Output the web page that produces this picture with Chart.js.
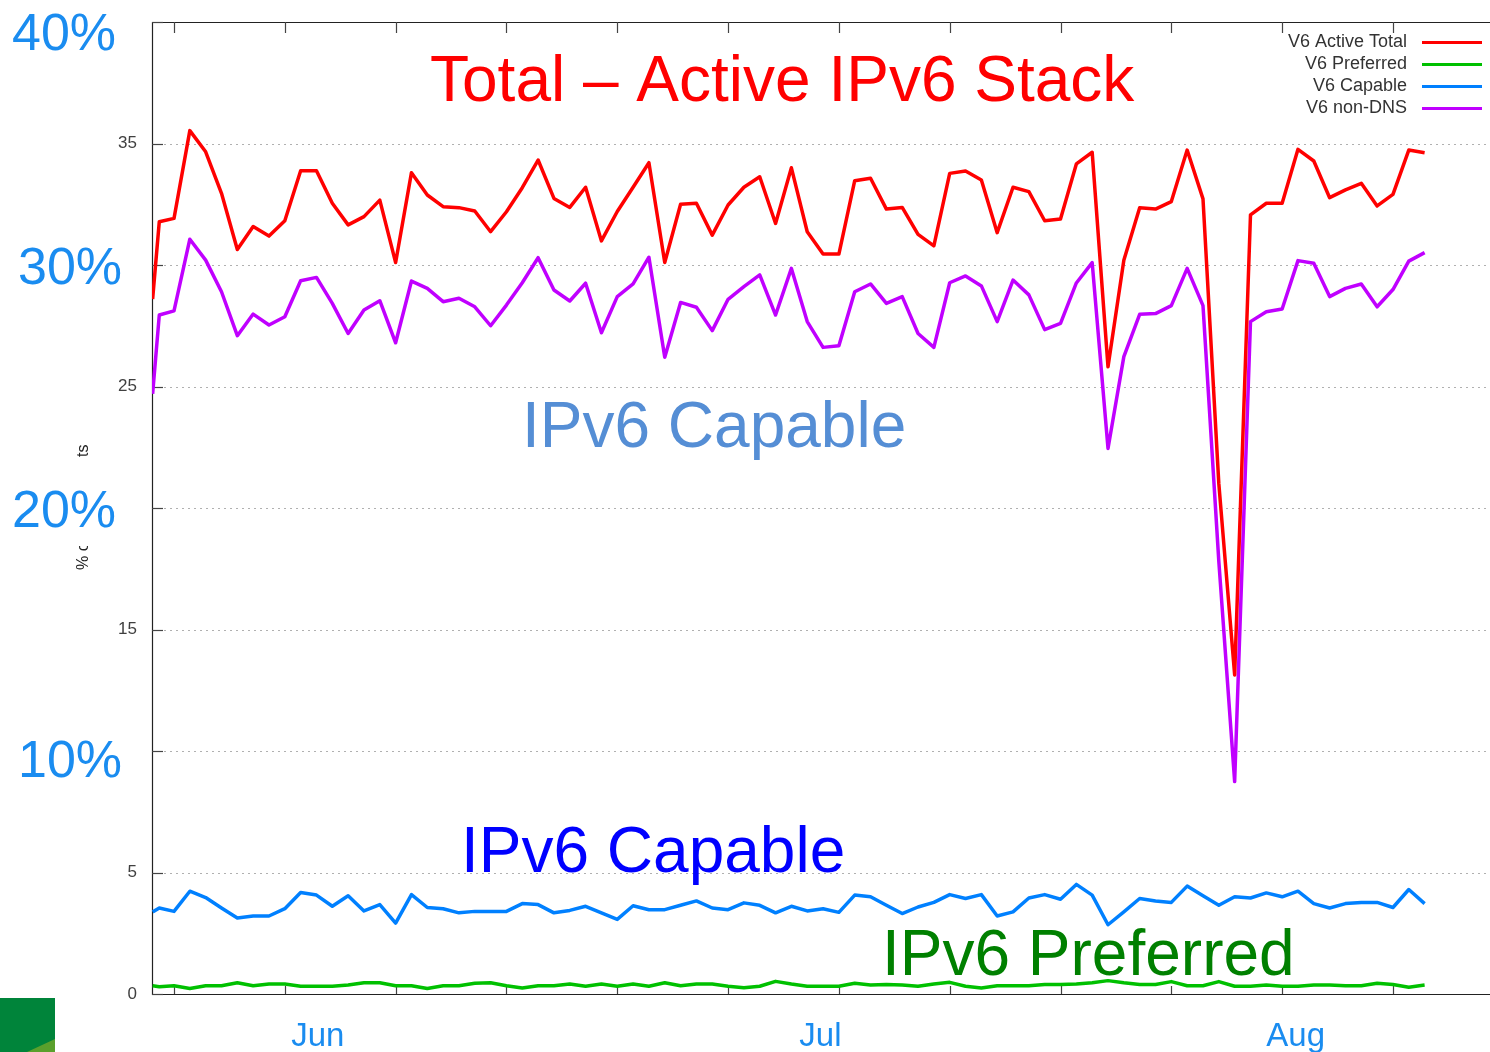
<!DOCTYPE html>
<html>
<head>
<meta charset="utf-8">
<script src="https://cdn.jsdelivr.net/npm/chart.js@4.4.1/dist/chart.umd.min.js"></script>
<style>
  html, body { margin: 0; padding: 0; background: #ffffff; }
  canvas { display: block; }
</style>
</head>
<body>
<canvas id="c" width="1490" height="1052"></canvas>
<script>
// ---- data (days since first weekly tick) ----
const days = [-1.35, -0.93, 0, 1, 2, 3, 4, 5, 6, 7, 8, 9, 10, 11, 12, 13, 14, 15, 16, 17, 18, 19,
  20, 21, 22, 23, 24, 25, 26, 27, 28, 29, 30, 31, 32, 33, 34, 35, 36, 37, 38, 39,
  40, 41, 42, 43, 44, 45, 46, 47, 48, 49, 50, 51, 52, 53, 54, 55, 56, 57, 58, 59,
  60, 61, 62, 63, 64, 65, 66, 67, 68, 69, 70, 71, 72, 73, 74, 75, 76, 77, 78, 79];

const activeTotal = [28.6, 31.78, 31.92, 35.53, 34.66, 32.95, 30.64, 31.58, 31.19, 31.82, 33.88, 33.88,
  32.54, 31.65, 31.99, 32.67, 30.10, 33.80, 32.88, 32.40, 32.36, 32.22, 31.37, 32.19, 33.18, 34.32,
  32.74, 32.37, 33.20, 30.99, 32.2, 33.2, 34.21, 30.10, 32.5, 32.54, 31.23, 32.47, 33.20, 33.63,
  31.71, 34.00, 31.37, 30.45, 30.45, 33.47, 33.57, 32.30, 32.37, 31.26, 30.79, 33.77, 33.87, 33.50,
  31.33, 33.20, 33.02, 31.82, 31.89, 34.16, 34.64, 25.81, 30.2, 32.36, 32.30, 32.61, 34.73, 32.72,
  21.0, 13.13, 32.06, 32.54, 32.54, 34.76, 34.28, 32.77, 33.09, 33.36, 32.43, 32.91, 34.73, 34.62];

const preferred = [0.34, 0.30, 0.34, 0.23, 0.34, 0.34, 0.46, 0.34, 0.41, 0.41, 0.32, 0.32, 0.32, 0.37,
  0.46, 0.46, 0.34, 0.34, 0.23, 0.34, 0.34, 0.44, 0.46, 0.34, 0.25, 0.34, 0.34, 0.41, 0.32, 0.41,
  0.32, 0.41, 0.32, 0.46, 0.34, 0.41, 0.41, 0.32, 0.26, 0.32, 0.52, 0.41, 0.32, 0.32, 0.32, 0.44,
  0.37, 0.39, 0.37, 0.32, 0.41, 0.48, 0.32, 0.25, 0.34, 0.34, 0.34, 0.39, 0.39, 0.41, 0.46, 0.55,
  0.46, 0.39, 0.39, 0.51, 0.34, 0.34, 0.51, 0.32, 0.32, 0.37, 0.32, 0.32, 0.37, 0.37, 0.34, 0.34,
  0.44, 0.39, 0.28, 0.37];

const capable = [3.38, 3.54, 3.40, 4.23, 3.97, 3.54, 3.13, 3.21, 3.21, 3.51, 4.18, 4.07, 3.61, 4.04,
  3.42, 3.68, 2.92, 4.09, 3.56, 3.51, 3.34, 3.40, 3.40, 3.40, 3.72, 3.68, 3.34, 3.44, 3.61, 3.34,
  3.07, 3.63, 3.47, 3.47, 3.65, 3.83, 3.54, 3.47, 3.75, 3.65, 3.34, 3.61, 3.42, 3.51, 3.36, 4.07,
  4.0, 3.65, 3.31, 3.58, 3.77, 4.09, 3.93, 4.09, 3.21, 3.38, 3.95, 4.09, 3.90, 4.51, 4.07, 2.85,
  3.38, 3.93, 3.83, 3.77, 4.44, 4.04, 3.65, 4.0, 3.95, 4.16, 4.0, 4.23, 3.72, 3.54, 3.72, 3.77,
  3.77, 3.56, 4.30, 3.72];

const nonDNS = [24.7, 27.94, 28.11, 31.06, 30.2, 28.9, 27.09, 27.98, 27.53, 27.87, 29.35, 29.49, 28.42,
  27.18, 28.15, 28.53, 26.8, 29.34, 29.04, 28.49, 28.63, 28.28, 27.5, 28.35, 29.27, 30.3, 28.97,
  28.52, 29.25, 27.21, 28.7, 29.22, 30.32, 26.2, 28.46, 28.26, 27.3, 28.59, 29.11, 29.59, 27.94,
  29.86, 27.67, 26.61, 26.68, 28.9, 29.22, 28.42, 28.7, 27.18, 26.61, 29.27, 29.55, 29.14, 27.67,
  29.38, 28.77, 27.34, 27.6, 29.26, 30.1, 22.45, 26.23, 27.97, 28.0, 28.33, 29.86, 28.33, 17.8,
  8.74, 27.67, 28.08, 28.19, 30.18, 30.07, 28.7, 29.04, 29.22, 28.28, 28.99, 30.16, 30.51];

const seriesLabels = ["V6 Active Total", "V6 Preferred", "V6 Capable", "V6 non-DNS"];
const seriesColors = ["#ff0000", "#00c000", "#0080ff", "#c000ff"];
const weekTicks = [0, 7, 14, 21, 28, 35, 42, 49, 56, 63, 70, 77];
const yTicks = [0, 5, 10, 15, 20, 25, 30, 35, 40];
const yTickLabels = ["0", "5", "", "15", "", "25", "", "35", ""];
const percentLabels = ["40%", "30%", "20%", "10%"];
const percentValues = [40, 30, 20, 10];
const monthLabels = ["Jun", "Jul", "Aug"];
const monthDays = [7.4, 39.5, 69.0];
const yTitle = "% of Experiments";

const FONT = '"Liberation Sans", Arial, sans-serif';

function toPts(vals) { return days.map((d, i) => ({ x: d, y: vals[i] })); }

const decor = {
  id: 'decor',
  beforeDraw(chart) {
    const ctx = chart.ctx;
    ctx.save();
    ctx.fillStyle = '#ffffff';
    ctx.fillRect(0, 0, chart.width, chart.height);
    ctx.restore();
  },
  beforeDatasetsDraw(chart) {
    const ctx = chart.ctx, a = chart.chartArea;
    const xs = chart.scales.x, ys = chart.scales.y;
    ctx.save();
    // dotted grid
    ctx.strokeStyle = '#b0b0b0';
    ctx.lineWidth = 1;
    ctx.setLineDash([2, 4]);
    yTicks.forEach(v => {
      if (v === 0 || v === 40) return;
      const y = Math.round(ys.getPixelForValue(v)) + 0.5;
      ctx.beginPath(); ctx.moveTo(a.left, y); ctx.lineTo(a.right, y); ctx.stroke();
    });
    ctx.setLineDash([]);
    // border
    ctx.strokeStyle = '#222222';
    ctx.lineWidth = 1.2;
    ctx.beginPath();
    ctx.moveTo(a.right + 2, a.top + 0.5);
    ctx.lineTo(a.left + 0.5, a.top + 0.5);
    ctx.lineTo(a.left + 0.5, a.bottom + 0.5);
    ctx.lineTo(a.right + 2, a.bottom + 0.5);
    ctx.stroke();
    // y ticks (inside)
    ctx.strokeStyle = '#444444';
    yTicks.forEach(v => {
      const y = Math.round(ys.getPixelForValue(v)) + 0.5;
      ctx.beginPath(); ctx.moveTo(a.left, y); ctx.lineTo(a.left + 11, y); ctx.stroke();
    });
    // x ticks bottom and top
    weekTicks.forEach(d => {
      const x = Math.round(xs.getPixelForValue(d)) + 0.5;
      ctx.beginPath(); ctx.moveTo(x, a.bottom); ctx.lineTo(x, a.bottom - 8); ctx.stroke();
      ctx.beginPath(); ctx.moveTo(x, a.top); ctx.lineTo(x, a.top + 11); ctx.stroke();
    });
    // y tick labels
    ctx.fillStyle = '#404040';
    ctx.font = '17px ' + FONT;
    ctx.textAlign = 'right';
    ctx.textBaseline = 'middle';
    yTicks.forEach((v, i) => {
      if (!yTickLabels[i]) return;
      ctx.fillText(yTickLabels[i], a.left - 15, ys.getPixelForValue(v));
    });
    ctx.restore();
  },
  afterDatasetsDraw(chart) {
    const ctx = chart.ctx, a = chart.chartArea;
    const xs = chart.scales.x, ys = chart.scales.y;
    ctx.save();
    // y axis title (rotated)
    ctx.save();
    ctx.translate(88, 570);
    ctx.rotate(-Math.PI / 2);
    ctx.fillStyle = '#222222';
    ctx.font = '16px ' + FONT;
    ctx.textAlign = 'left';
    ctx.textBaseline = 'alphabetic';
    ctx.fillText(yTitle, 0, 0);
    ctx.restore();

    // percent labels with white boxes
    const pctX = [12, 18, 12, 18];
    const pctOff = [28, 19, 19, 26];
    ctx.font = '52px ' + FONT;
    ctx.textAlign = 'left';
    ctx.textBaseline = 'alphabetic';
    percentLabels.forEach((t, i) => {
      const base = ys.getPixelForValue(percentValues[i]) + pctOff[i];
      ctx.fillStyle = '#ffffff';
      ctx.fillRect(0, base - 69, a.left - 4, 88);
      ctx.fillStyle = '#1a8cf0';
      ctx.fillText(t, pctX[i], base);
    });

    // big overlay labels
    ctx.font = '64px ' + FONT;
    ctx.fillStyle = '#ff0000';
    ctx.fillText('Total \u2013 Active IPv6 Stack', 430, 101);
    ctx.fillStyle = '#558ed5';
    ctx.fillText('IPv6 Capable', 522, 447);
    ctx.fillStyle = '#0000ff';
    ctx.fillText('IPv6 Capable', 461, 872);
    ctx.fillStyle = '#008000';
    ctx.fillText('IPv6 Preferred', 882, 975);

    // month labels
    ctx.font = '33px ' + FONT;
    ctx.fillStyle = '#1a8cf0';
    monthLabels.forEach((m, i) => {
      ctx.fillText(m, xs.getPixelForValue(monthDays[i]), 1046);
    });

    // gnuplot-style key
    ctx.font = '18px ' + FONT;
    ctx.textAlign = 'right';
    ctx.textBaseline = 'middle';
    chart.data.datasets.forEach((ds, i) => {
      const y = 42.5 + i * 22;
      ctx.fillStyle = '#333333';
      ctx.fillText(ds.label, 1407, y);
      ctx.strokeStyle = ds.borderColor;
      ctx.lineWidth = 3;
      ctx.beginPath(); ctx.moveTo(1422, y); ctx.lineTo(1482, y); ctx.stroke();
    });

    // corner logo
    ctx.fillStyle = '#00843a';
    ctx.fillRect(0, 998, 55, 54);
    ctx.fillStyle = '#5aa02c';
    ctx.beginPath();
    ctx.moveTo(27, 1052); ctx.lineTo(55, 1039); ctx.lineTo(55, 1052); ctx.closePath();
    ctx.fill();
    ctx.restore();
  }
};

new Chart(document.getElementById('c'), {
  type: 'line',
  data: {
    datasets: [
      { label: seriesLabels[0], data: toPts(activeTotal), borderColor: seriesColors[0] },
      { label: seriesLabels[1], data: toPts(preferred), borderColor: seriesColors[1] },
      { label: seriesLabels[2], data: toPts(capable), borderColor: seriesColors[2] },
      { label: seriesLabels[3], data: toPts(nonDNS), borderColor: seriesColors[3] }
    ].map(d => Object.assign(d, {
      borderWidth: 3.5, pointRadius: 0, tension: 0, fill: false,
      borderJoinStyle: 'round', borderCapStyle: 'butt'
    }))
  },
  options: {
    responsive: false,
    devicePixelRatio: 1,
    animation: false,
    layout: { padding: { left: 152, right: 0, top: 22, bottom: 58 } },
    plugins: { legend: { display: false }, tooltip: { enabled: false } },
    scales: {
      x: { type: 'linear', min: -1.39, max: 83.13, display: false },
      y: { type: 'linear', min: 0, max: 40, display: false }
    }
  },
  plugins: [decor]
});
</script>
</body>
</html>
